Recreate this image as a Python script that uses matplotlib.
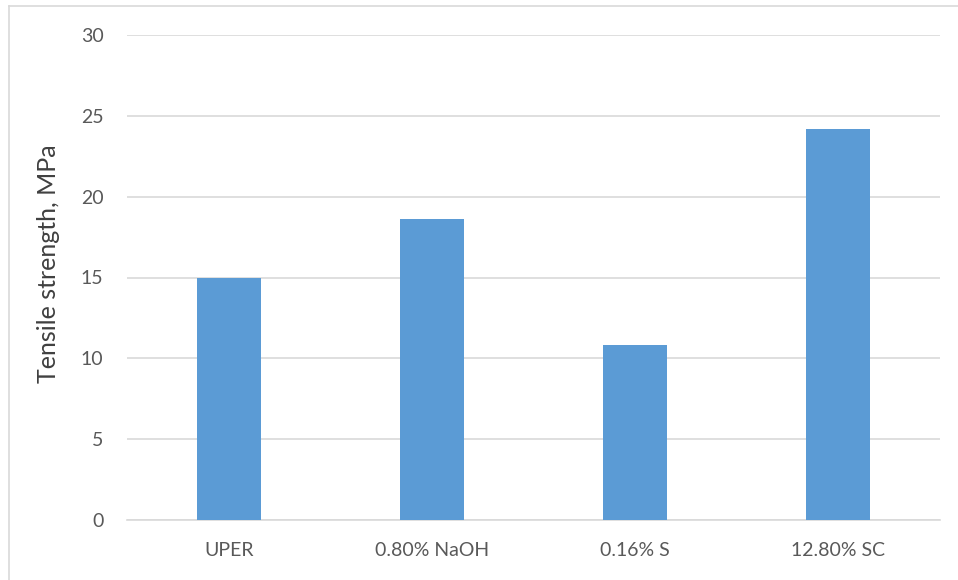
import numpy as np
import matplotlib.pyplot as plt
from matplotlib.lines import Line2D

plt.rcParams['font.family'] = ['Lato', 'DejaVu Sans']

# tensile strength of the treated samples
treatments = ['UPER', '0.80% NaOH', '0.16% S', '12.80% SC']
strength = [15.0, 18.6, 10.8, 24.2]
yticks = [0, 5, 10, 15, 20, 25, 30]

fig = plt.figure(figsize=(9.58, 5.8), dpi=100)
ax = fig.add_axes([127/958, 1-520/580, (940-127)/958, (520-35)/580])

x = np.arange(len(treatments))
ax.bar(x, strength, width=0.316, color='#5B9BD5', zorder=3)

ax.set_xlim(-0.5, len(treatments)-0.5)
ax.set_ylim(0, 30)
ax.set_yticks(yticks)
ax.set_yticklabels([str(t) for t in yticks])
ax.set_xticks(x)
ax.set_xticklabels(treatments)
ax.tick_params(axis='both', length=0, labelsize=14, labelcolor='#595959')
ax.tick_params(axis='y', pad=17)
ax.tick_params(axis='x', pad=16)
ax.grid(axis='y', color='#D9D9D9', linewidth=1.2, zorder=0)
for s in ['top', 'right', 'left']:
    ax.spines[s].set_visible(False)
ax.spines['bottom'].set_color('#D9D9D9')
ax.spines['bottom'].set_linewidth(1.2)

ax.set_ylabel('Tensile strength, MPa', fontsize=18, color='#404040')
ax.yaxis.set_label_coords(-0.083, 0.528)

# chart area frame (only top and left edges show)
fig.add_artist(Line2D([9/958, 1], [1-6/580, 1-6/580], color='#D9D9D9', lw=1.2))
fig.add_artist(Line2D([9/958, 9/958], [0, 1-6/580], color='#D9D9D9', lw=1.2))

fig.savefig('out.png', dpi=100)
